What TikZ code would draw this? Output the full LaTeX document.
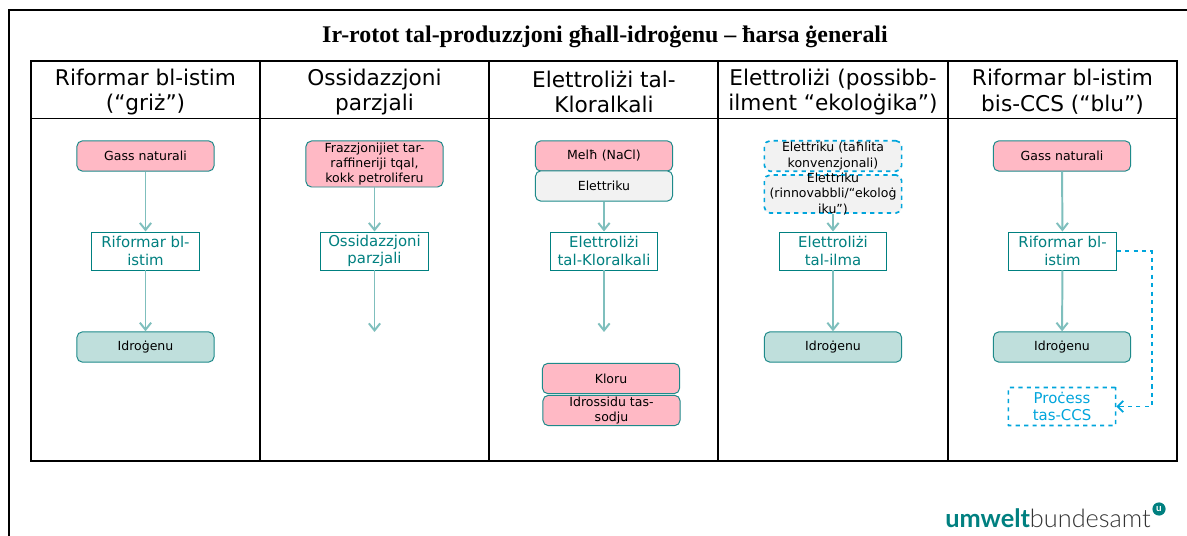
\documentclass[tikz,border=0pt]{standalone}
\usepackage{fontspec}
\usepackage{xcolor}
\setmainfont{DejaVu Sans}
\newfontfamily\titlefont{Liberation Serif}
\newfontfamily\logofont{Lato}
\newfontfamily\logolight{Lato Light}
\usetikzlibrary{shapes,arrows.meta}
\definecolor{ubaTeal}{RGB}{0,128,128}
\definecolor{ubaEdge}{RGB}{30,138,138}
\definecolor{ubaLine}{RGB}{127,191,189}
\definecolor{ubaPink}{RGB}{255,185,197}
\definecolor{ubaGreen}{RGB}{191,223,220}
\definecolor{ubaGrey}{RGB}{242,242,242}
\definecolor{ubaBlue}{RGB}{0,165,220}
\begin{document}
\begin{tikzpicture}[x=0.025cm,y=-0.025cm]
\tikzstyle{every node}=[font=\fontsize{8.9}{10.9}\selectfont,inner sep=0pt,align=center]
\tikzstyle{head}=[font=\fontsize{15.4}{18.2}\selectfont]
\tikzstyle{feed}=[draw=ubaEdge,rounded corners=4pt,line width=0.7pt,minimum width=3.43cm]
\tikzstyle{pinkbox}=[feed,fill=ubaPink]
\tikzstyle{greybox}=[feed,fill=ubaGrey]
\tikzstyle{greenbox}=[feed,fill=ubaGreen]
\tikzstyle{dashbox}=[feed,fill=ubaGrey,draw=ubaBlue,dashed,line width=1.2pt]
\tikzstyle{step box}=[draw=ubaTeal,fill=white,text=ubaTeal,line width=0.7pt,font=\fontsize{10.6}{12.2}\selectfont,minimum width=2.68cm,minimum height=0.95cm]
\tikzstyle{ccs box}=[draw=ubaBlue,fill=white,text=ubaBlue,dashed,rounded corners=0.2pt,line width=1.2pt,font=\fontsize{10.6}{12.2}\selectfont,minimum width=2.68cm,minimum height=0.95cm]
\tikzstyle{flow}=[draw=ubaLine,line width=1.4pt,-{Straight Barb[length=5pt,width=8pt]}]
\tikzstyle{ccs}=[draw=ubaBlue,line width=1.2pt,dashed,-{Straight Barb[length=4pt,width=8pt]}]
\useasboundingbox (0,0) rectangle (1187,536);
\fill[white] (0,0) rectangle (1187,536);
\draw[line width=1.2pt] (1187,10) -- (9,10) -- (9,536);
\node [font=\titlefont\fontsize{17}{20}\selectfont\bfseries] (title) at (605,37) {Ir-rotot tal-produzzjoni għall-idroġenu – ħarsa ġenerali};
% table
\draw[line width=0.8pt] (31,61) rectangle (1177,461);
\draw[line width=0.6pt] (31,118) -- (1177,118);
\draw[line width=0.8pt] (260,61) -- (260,461);
\draw[line width=0.8pt] (489,61) -- (489,461);
\draw[line width=0.8pt] (718,61) -- (718,461);
\draw[line width=0.8pt] (948,61) -- (948,461);
\node [head] (headA) at (145.5,92) {Riformar bl-istim\\(“griż”)};
\node [head] (headB) at (374.5,92) {Ossidazzjoni\\parzjali};
\node [head] (headC) at (604,92) {Elettroliżi tal-\\Kloralkali};
\node [head] (headD) at (833,92) {Elettroliżi (possibb-\\ilment “ekoloġika”)};
\node [head] (headE) at (1062.5,92) {Riformar bl-istim\\bis-CCS (“blu”)};
% griz
\node [pinkbox,minimum height=0.76cm] (gasA) at (145.5,156) {Gass naturali};
\node [step box] (refA) at (145.5,251) {Riformar bl-\\istim};
\node [greenbox,minimum height=0.76cm] (hydA) at (145.5,347) {Idroġenu};
\draw [flow] (gasA) -- (refA);
\draw [flow] (refA) -- (hydA);
% ossidazzjoni
\node [pinkbox,minimum height=1.15cm] (oilB) at (374.5,164) {Frazzjonijiet tar-\\raffineriji tqal,\\kokk petroliferu};
\node [step box] (poxB) at (374.5,251) {Ossidazzjoni\\parzjali};
\coordinate (endB) at (374.5,332);
\draw [flow] (oilB) -- (poxB);
\draw [flow] (poxB) -- (endB);
% kloralkali
\node [pinkbox,minimum height=0.76cm] (saltC) at (604,156) {Melħ (NaCl)};
\node [greybox,minimum height=0.76cm] (powerC) at (604,186) {Elettriku};
\node [step box] (elecC) at (604,251) {Elettroliżi\\tal-Kloralkali};
\coordinate (endC) at (604,332);
\node [pinkbox,minimum height=0.76cm] (clC) at (611,378.5) {Kloru};
\node [pinkbox,minimum height=0.76cm] (naohC) at (611.5,410.5) {Idrossidu tas-\\sodju};
\draw [flow] (powerC) -- (elecC);
\draw [flow] (elecC) -- (endC);
% ilma
\node [dashbox,minimum height=0.76cm] (mixD) at (833,156) {Elettriku (taħlita\\konvenzjonali)};
\node [dashbox,minimum height=0.95cm,label={[name=mixLabel]center:Elettriku\\(rinnovabbli/“ekoloġ\\iku”)}] (greenD) at (833,194) {};
\node [step box] (elecD) at (833,251) {Elettroliżi\\tal-ilma};
\node [greenbox,minimum height=0.76cm] (hydD) at (833,347) {Idroġenu};
\draw [flow] (greenD) -- (elecD);
\draw [flow] (elecD) -- (hydD);
% blu
\node [pinkbox,minimum height=0.76cm] (gasE) at (1062,156) {Gass naturali};
\node [step box] (refE) at (1062.5,251) {Riformar bl-\\istim};
\node [greenbox,minimum height=0.76cm] (hydE) at (1062,347) {Idroġenu};
\node [ccs box] (ccsE) at (1062,406.5) {Proċess\\tas-CCS};
\draw [flow] (gasE) -- (refE);
\draw [flow] (refE) -- (hydE);
\draw [ccs] (refE.east) -- (1152,251) -- (1152,406.5) -- (ccsE.east);
% logo
\node [anchor=base west,font=\logolight\fontsize{18}{20}\selectfont] (logo) at (945,527) {\textcolor{ubaTeal}{\logofont\bfseries umwelt}\textcolor{black!80}{bundesamt}};
\node [circle,fill=ubaTeal,text=white,minimum size=0.33cm,font=\logofont\bfseries\fontsize{7}{7}\selectfont] (logoU) at (1159,509) {u};
\end{tikzpicture}
\end{document}
